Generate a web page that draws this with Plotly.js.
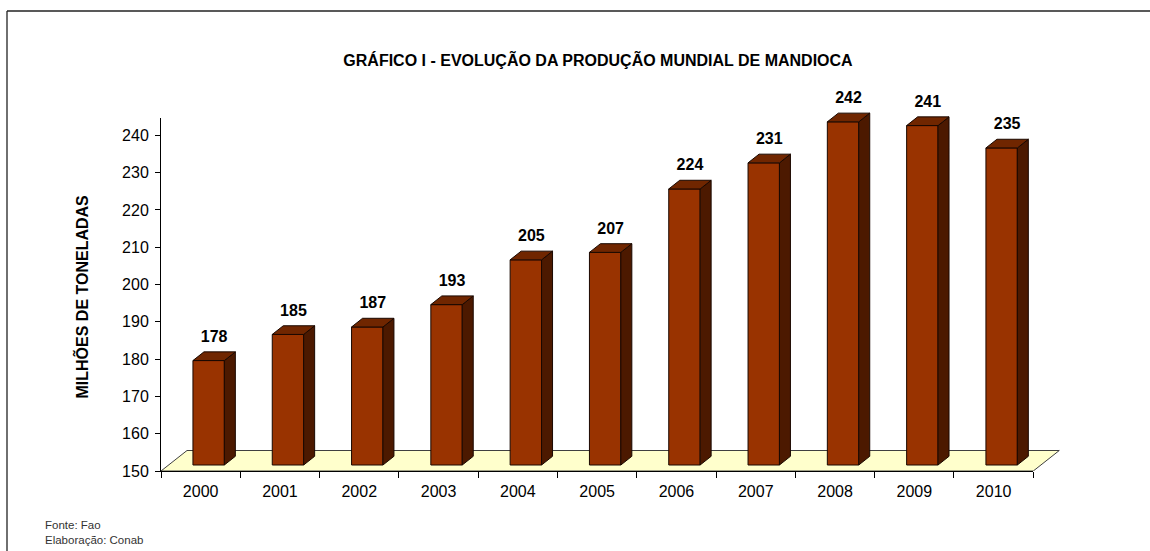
<!DOCTYPE html>
<html>
<head>
<meta charset="utf-8">
<script src="https://cdn.plot.ly/plotly-3.0.1.min.js"></script>
<style>html,body{margin:0;padding:0;background:#fff;}#chart{width:1150px;height:551px;}</style>
</head>
<body>
<div id="chart"></div>
<script>
// ---- data ----
const years = ['2000','2001','2002','2003','2004','2005','2006','2007','2008','2009','2010'];
const production = [178, 185, 187, 193, 205, 207, 224, 231, 242, 241, 235];
const yTickVals = [150, 160, 170, 180, 190, 200, 210, 220, 230, 240];
const chartTitle = 'GRÁFICO I - EVOLUÇÃO DA PRODUÇÃO MUNDIAL DE MANDIOCA';
const yTitle = 'MILHÕES DE TONELADAS';
const notes = ['Fonte: Fao', 'Elaboração: Conab'];

// ---- layout geometry ----
const W = 1150, H = 551;
const M = {l: 161, r: 85, t: 98, b: 80};
const plotW = W - M.l - M.r, plotH = H - M.t - M.b;
const xRange = [-0.5, 10.9];
const yRange = [150, 250];
const ux = plotW / (xRange[1] - xRange[0]);   // px per category
const uy = plotH / (yRange[1] - yRange[0]);   // px per unit
const axisTop = 244.6;

// pixel -> paper helpers (for frame & notes only)
const pxX = p => (p - M.l) / plotW;
const pxY = p => (H - M.b - p) / plotH;

// 3D offsets (px converted to data units)
const floorDX = 26 / ux, floorDY = 20.5 / uy;
const barOff = 8 / ux, barW = 31.4 / ux;
const barLift = 6 / uy;
const depDX = 11 / ux, depDY = 8.7 / uy;

const idx = years.map((_, i) => i);
const base = yRange[0] + barLift;
const nCat = years.length;

// floor (drawn as a below-layer shape in data coordinates)
const fx0 = -0.5, fx1 = nCat - 0.5;
const floorPath = 'M ' + fx0 + ',150 L ' + fx1 + ',150 L ' + (fx1 + floorDX) + ',' + (150 + floorDY) +
                  ' L ' + (fx0 + floorDX) + ',' + (150 + floorDY) + ' Z';

// side & top faces
const sideX = [], sideY = [], topX = [], topY = [];
idx.forEach(i => {
  const L = i + barOff - barW / 2, R = i + barOff + barW / 2;
  const yt = production[i] + barLift;
  sideX.push(R, R + depDX, R + depDX, R, R, null);
  sideY.push(base, base + depDY, yt + depDY, yt, base, null);
  topX.push(L, R, R + depDX, L + depDX, L, null);
  topY.push(yt, yt, yt + depDY, yt + depDY, yt, null);
});

const fontFam = '"Liberation Sans", Arial, sans-serif';

const traces = [
  {type: 'bar', x: idx.map(i => i + barOff), y: production.map(v => v - 150), base: base,
   width: barW, marker: {color: '#993300', line: {color: '#1a0800', width: 1}},
   hoverinfo: 'skip', showlegend: false},
  {type: 'scatter', x: sideX, y: sideY, mode: 'lines', fill: 'toself',
   fillcolor: '#4c1900', line: {color: '#1a0800', width: 1}, hoverinfo: 'skip', showlegend: false},
  {type: 'scatter', x: topX, y: topY, mode: 'lines', fill: 'toself',
   fillcolor: '#702600', line: {color: '#1a0800', width: 1}, hoverinfo: 'skip', showlegend: false},
  {type: 'scatter', mode: 'text', x: idx.map(i => i + barOff + depDX / 2),
   y: production.map(v => v + barLift + depDY + 14 / uy),
   text: production.map(String), textposition: 'middle center', cliponaxis: false,
   textfont: {family: fontFam, size: 16, color: '#000', weight: 'bold'},
   hoverinfo: 'skip', showlegend: false},
  {type: 'scatter', x: [], y: [], xaxis: 'x2', yaxis: 'y2', hoverinfo: 'skip', showlegend: false}
];

const minorVals = [];
for (let i = 0; i <= nCat; i++) minorVals.push(i - 0.5);

const tickFont = {family: fontFam, size: 16, color: '#000'};

const layout = {
  width: W, height: H,
  margin: M,
  paper_bgcolor: '#ffffff',
  plot_bgcolor: 'rgba(0,0,0,0)',
  showlegend: false,
  bargap: 0,
  title: {text: chartTitle, x: 598 / W, xanchor: 'center', y: 1 - 60 / H, yanchor: 'middle',
          font: {family: fontFam, size: 16, color: '#000', weight: 'bold'}},
  xaxis: {domain: [0, 1], range: xRange, visible: false, fixedrange: true},
  yaxis: {domain: [0, 1], range: yRange, visible: false, fixedrange: true},
  xaxis2: {domain: [0, (nCat) / (xRange[1] - xRange[0])], range: [-0.5, nCat - 0.5], anchor: 'y2',
           showline: true, linecolor: '#000', linewidth: 1, showgrid: false, zeroline: false,
           tickmode: 'array', tickvals: idx, ticktext: years, ticks: '',
           ticklabelstandoff: 6, tickfont: tickFont,
           minor: {tickmode: 'array', tickvals: minorVals, ticks: 'outside', ticklen: 6,
                   tickcolor: '#000', tickwidth: 1, showgrid: false},
           fixedrange: true},
  yaxis2: {domain: [0, (axisTop - yRange[0]) / (yRange[1] - yRange[0])], range: [yRange[0], axisTop],
           anchor: 'x2', showline: true, linecolor: '#000', linewidth: 1, showgrid: false, zeroline: false,
           tickmode: 'array', tickvals: yTickVals, ticks: 'outside', ticklen: 5, tickcolor: '#000',
           ticklabelstandoff: 3, tickfont: tickFont, fixedrange: true},
  annotations: [
    {text: yTitle, xref: 'paper', yref: 'paper', x: pxX(81), y: pxY(296.5), textangle: -90,
     showarrow: false, xanchor: 'center', yanchor: 'middle',
     font: {family: fontFam, size: 16, color: '#000', weight: 'bold'}},
    {text: notes[0], xref: 'paper', yref: 'paper', x: pxX(43), y: pxY(525), showarrow: false,
     xanchor: 'left', yanchor: 'middle', font: {family: fontFam, size: 11.5, color: '#333'}},
    {text: notes[1], xref: 'paper', yref: 'paper', x: pxX(43), y: pxY(540), showarrow: false,
     xanchor: 'left', yanchor: 'middle', font: {family: fontFam, size: 11.5, color: '#333'}}
  ],
  shapes: [
    {type: 'path', xref: 'x', yref: 'y', layer: 'below', path: floorPath,
     fillcolor: '#ffffcc', line: {color: '#404040', width: 1}},
    {type: 'line', xref: 'paper', yref: 'paper', x0: pxX(7), x1: pxX(1152), y0: pxY(11), y1: pxY(11),
     line: {color: '#222', width: 1.3}},
    {type: 'line', xref: 'paper', yref: 'paper', x0: pxX(7), x1: pxX(7), y0: pxY(11), y1: pxY(553),
     line: {color: '#222', width: 1.3}}
  ]
};

Plotly.newPlot('chart', traces, layout, {displayModeBar: false, staticPlot: true});
</script>
</body>
</html>
